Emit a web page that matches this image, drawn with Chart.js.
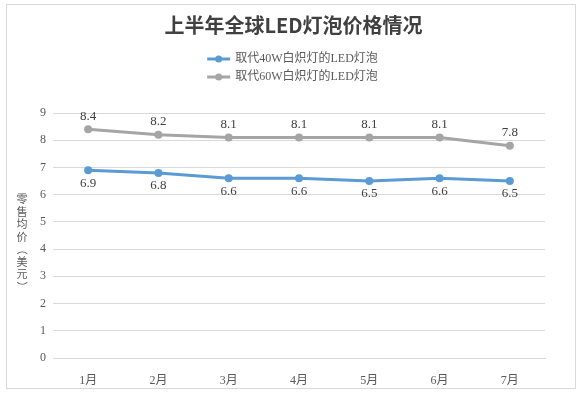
<!DOCTYPE html>
<html>
<head>
<meta charset="utf-8">
<script src="https://cdn.jsdelivr.net/npm/chart.js@4"></script>
<style>
    html, body { margin: 0; padding: 0; background: #fff; }
    #wrap { position: relative; width: 581px; height: 395px; }
    #frame { position: absolute; left: 6px; top: 4px; width: 570px; height: 385px; border: 1px solid #d9d9d9; box-sizing: border-box; }
    canvas { position: absolute; left: 0; top: 0; }
</style>
</head>
<body>
<div id="wrap">
    <div id="frame"></div>
    <canvas id="priceChart" width="581" height="395"></canvas>
</div>
<script>
const months = ['1月', '2月', '3月', '4月', '5月', '6月', '7月'];
const price40W = [6.9, 6.8, 6.6, 6.6, 6.5, 6.6, 6.5];
const price60W = [8.4, 8.2, 8.1, 8.1, 8.1, 8.1, 7.8];
const seriesNames = ['取代40W白炽灯的LED灯泡', '取代60W白炽灯的LED灯泡'];
const yTitle = '零售均价（美元）';

const textFont = '"Liberation Serif", "Noto Sans CJK SC", serif';

// value labels next to each point
const pointLabels = {
    id: 'pointLabels',
    afterDatasetsDraw(chart) {
        const ctx = chart.ctx;
        ctx.save();
        ctx.font = '13px ' + textFont;
        ctx.fillStyle = '#404040';
        ctx.textAlign = 'center';
        ctx.textBaseline = 'middle';
        chart.data.datasets.forEach((ds, i) => {
            const meta = chart.getDatasetMeta(i);
            meta.data.forEach((pt, j) => {
                const dy = ds.labelPos === 'above' ? -13 : 13;
                ctx.fillText(ds.data[j].toFixed(1), pt.x, pt.y + dy);
            });
        });
        ctx.restore();
    }
};

// legend in two rows, drawn under the title
const stackedLegend = {
    id: 'stackedLegend',
    afterLayout(chart) {
        // centre the title a bit further right, like the original
        chart.titleBlock.left = 42;
    },
    afterDraw(chart) {
        const ctx = chart.ctx;
        ctx.save();
        ctx.font = '12px ' + textFont;
        const w = Math.max(...chart.data.datasets.map(ds => ctx.measureText(ds.label).width));
        const total = 28 + w;
        const x0 = chart.width / 2 + 2 - total / 2;
        chart.data.datasets.forEach((ds, i) => {
            const y = 59 + i * 18;
            ctx.strokeStyle = ds.borderColor;
            ctx.lineWidth = 3;
            ctx.beginPath();
            ctx.moveTo(x0, y);
            ctx.lineTo(x0 + 23, y);
            ctx.stroke();
            ctx.fillStyle = ds.borderColor;
            ctx.beginPath();
            ctx.arc(x0 + 11.5, y, 3.5, 0, Math.PI * 2);
            ctx.fill();
            ctx.fillStyle = '#595959';
            ctx.textAlign = 'left';
            ctx.textBaseline = 'middle';
            ctx.fillText(ds.label, x0 + 28, y);
        });
        ctx.restore();
    }
};

// vertical y axis title, one character per row, brackets turned
const verticalTitle = {
    id: 'verticalTitle',
    afterDraw(chart) {
        const ctx = chart.ctx;
        const chars = Array.from(yTitle);
        ctx.save();
        ctx.font = '11px "Noto Sans CJK SC", sans-serif';
        ctx.fillStyle = '#595959';
        ctx.textAlign = 'center';
        ctx.textBaseline = 'middle';
        const step = 12.5;
        const top = 243 - (chars.length - 1) * step / 2;
        chars.forEach((ch, i) => {
            const y = top + i * step;
            if (ch === '（' || ch === '）') {
                ctx.save();
                ctx.translate(22, y);
                ctx.rotate(Math.PI / 2);
                ctx.fillText(ch, 0, 0);
                ctx.restore();
            } else {
                ctx.fillText(ch, 22, y);
            }
        });
        ctx.restore();
    }
};

const ctx = document.getElementById('priceChart').getContext('2d');
new Chart(ctx, {
    type: 'line',
    data: {
        labels: months,
        datasets: [{
            label: seriesNames[0],
            data: price40W,
            borderColor: '#5B9BD5',
            backgroundColor: '#5B9BD5',
            borderWidth: 3,
            pointRadius: 4,
            pointBorderWidth: 0,
            tension: 0,
            labelPos: 'below'
        }, {
            label: seriesNames[1],
            data: price60W,
            borderColor: '#A5A5A5',
            backgroundColor: '#A5A5A5',
            borderWidth: 3,
            pointRadius: 4,
            pointBorderWidth: 0,
            tension: 0,
            labelPos: 'above'
        }]
    },
    options: {
        responsive: false,
        animation: false,
        layout: { padding: { left: 0, right: 36, top: 0, bottom: 7 } },
        plugins: {
            legend: { display: false },
            tooltip: { enabled: false },
            title: {
                display: true,
                text: '上半年全球LED灯泡价格情况',
                color: '#404040',
                font: { size: 20, weight: 'bold', family: '"Noto Sans CJK SC", sans-serif', lineHeight: 1.2 },
                padding: { top: 13, bottom: 76 }
            }
        },
        scales: {
            x: {
                offset: true,
                grid: { display: false },
                border: { color: '#d9d9d9' },
                ticks: { color: '#595959', padding: 8, font: { size: 12, family: textFont } },
                afterFit(scale) { scale.height = 30; }
            },
            y: {
                min: 0,
                max: 9,
                ticks: { stepSize: 1, color: '#595959', padding: 7, font: { size: 12, family: textFont } },
                grid: { color: '#d9d9d9', drawTicks: false },
                border: { display: false },
                afterFit(scale) { scale.width = 53; }
            }
        }
    },
    plugins: [pointLabels, stackedLegend, verticalTitle]
});
</script>
</body>
</html>
